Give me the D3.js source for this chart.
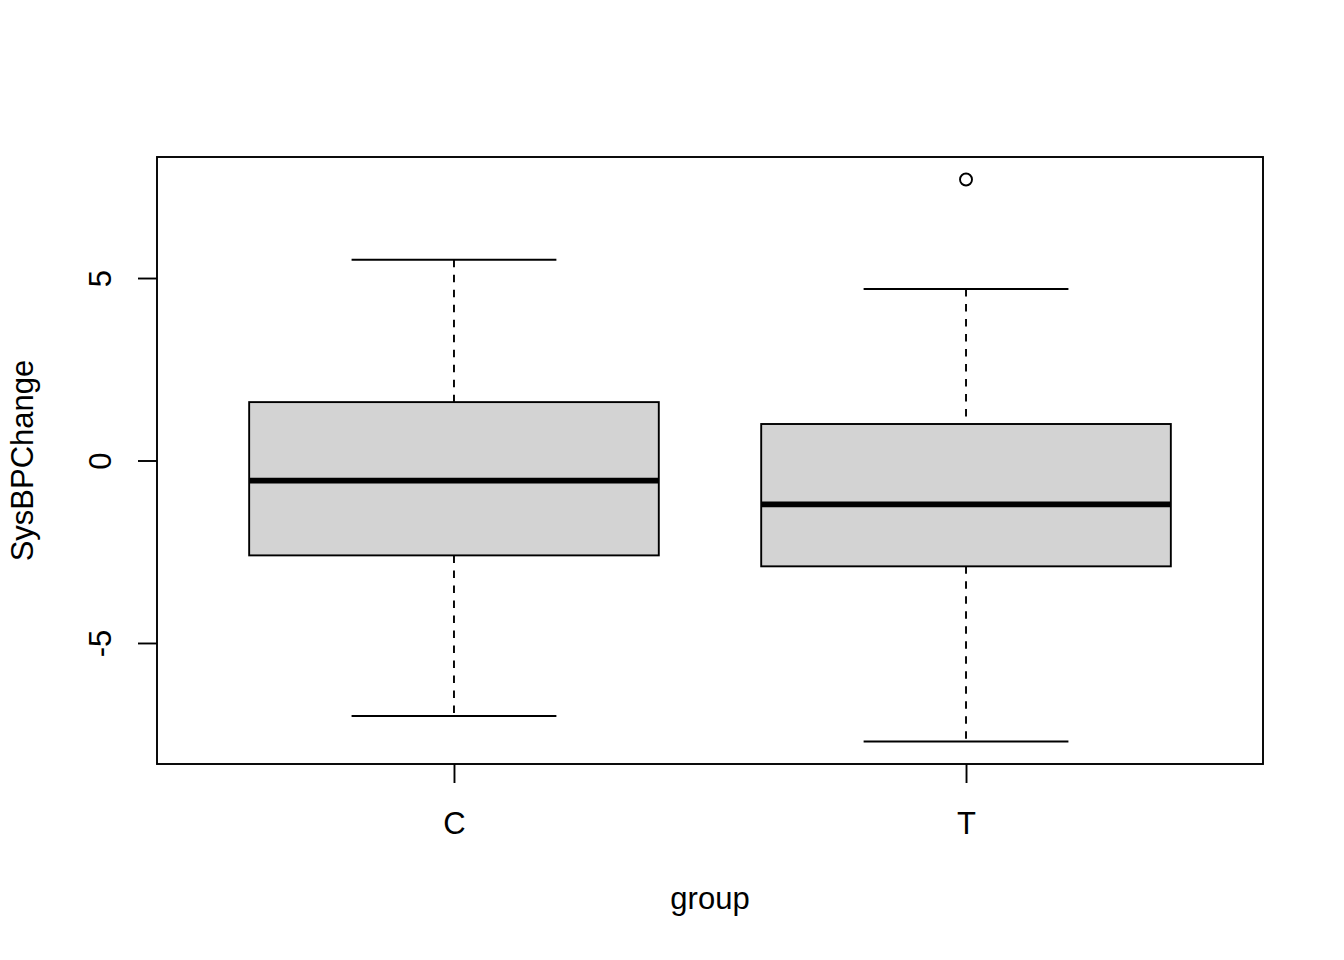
<!DOCTYPE html>
<html>
<head>
<meta charset="utf-8">
<script src="https://cdn.jsdelivr.net/npm/d3@7"></script>
<style>
  body { margin: 0; background: #fff; }
  svg text { font-family: "Liberation Sans", Arial, sans-serif; fill: #000; }
</style>
</head>
<body>
<div id="chart"></div>
<script>
// boxplot summary per group
var groups = ['C', 'T'];
var whiskerLow = [-7.0, -7.7];
var quart1 = [-2.6, -2.9];
var medians = [-0.55, -1.2];
var quart3 = [1.6, 1.0];
var whiskerHigh = [5.5, 4.7];
var outliers = [[], [7.7]];
var yTicks = [-5, 0, 5];

var width = 1344, height = 960;
var plot = { left: 157, right: 1263, top: 157, bottom: 764 };
var lw = 1.9;
var fs = '31px';

var svg = d3.select('#chart').append('svg')
  .attr('width', width)
  .attr('height', height);

// R style: pad the ranges by 4%
var x = d3.scaleLinear().domain([0.42, 2.58]).range([plot.left, plot.right]);
var y = d3.scaleLinear().domain([-8.316, 8.316]).range([plot.bottom, plot.top]);

var boxes = groups.map(function (g, i) {
  return { name: g, pos: i + 1, lo: whiskerLow[i], q1: quart1[i], med: medians[i],
           q3: quart3[i], hi: whiskerHigh[i], out: outliers[i] };
});

var gBox = svg.selectAll('g.box')
  .data(boxes)
  .enter()
  .append('g')
  .attr('class', 'box');

// dashed whiskers
gBox.append('line')
  .attr('x1', d => x(d.pos)).attr('x2', d => x(d.pos))
  .attr('y1', d => y(d.hi)).attr('y2', d => y(d.q3))
  .attr('stroke', '#000').attr('stroke-width', lw).attr('stroke-dasharray', '7.5,7.5');
gBox.append('line')
  .attr('x1', d => x(d.pos)).attr('x2', d => x(d.pos))
  .attr('y1', d => y(d.q1)).attr('y2', d => y(d.lo))
  .attr('stroke', '#000').attr('stroke-width', lw).attr('stroke-dasharray', '7.5,7.5');

// whisker caps
['lo', 'hi'].forEach(function (k) {
  gBox.append('line')
    .attr('x1', d => x(d.pos - 0.2)).attr('x2', d => x(d.pos + 0.2))
    .attr('y1', d => y(d[k])).attr('y2', d => y(d[k]))
    .attr('stroke', '#000').attr('stroke-width', lw);
});

// box
gBox.append('rect')
  .attr('x', d => x(d.pos - 0.4))
  .attr('y', d => y(d.q3))
  .attr('width', d => x(d.pos + 0.4) - x(d.pos - 0.4))
  .attr('height', d => y(d.q1) - y(d.q3))
  .attr('fill', '#d3d3d3')
  .attr('stroke', '#000').attr('stroke-width', lw);

// median
gBox.append('line')
  .attr('x1', d => x(d.pos - 0.4)).attr('x2', d => x(d.pos + 0.4))
  .attr('y1', d => y(d.med)).attr('y2', d => y(d.med))
  .attr('stroke', '#000').attr('stroke-width', 5.7);

// outliers
gBox.each(function (d) {
  d3.select(this).selectAll('circle')
    .data(d.out)
    .enter()
    .append('circle')
    .attr('cx', x(d.pos))
    .attr('cy', v => y(v))
    .attr('r', 6)
    .attr('fill', 'none')
    .attr('stroke', '#000').attr('stroke-width', lw);
});

// frame
svg.append('rect')
  .attr('x', plot.left).attr('y', plot.top)
  .attr('width', plot.right - plot.left)
  .attr('height', plot.bottom - plot.top)
  .attr('fill', 'none').attr('stroke', '#000').attr('stroke-width', lw);

// x axis
var xAxis = svg.append('g')
  .attr('transform', 'translate(0,' + plot.bottom + ')')
  .call(d3.axisBottom(x).tickValues(boxes.map(d => d.pos))
    .tickFormat(function (v) { return groups[v - 1]; })
    .tickSize(19).tickPadding(0));
xAxis.select('.domain').remove();
xAxis.selectAll('line').attr('stroke-width', lw);
xAxis.selectAll('text')
  .attr('dy', null)
  .attr('y', 70)
  .style('font-size', fs)
  .attr('font-family', null);

// y axis
var yAxis = svg.append('g')
  .attr('transform', 'translate(' + plot.left + ',0)')
  .call(d3.axisLeft(y).tickValues(yTicks).tickSize(19).tickFormat(d3.format('d')));
yAxis.select('.domain').remove();
yAxis.selectAll('line').attr('stroke-width', lw);
yAxis.selectAll('text')
  .attr('x', null).attr('dy', null)
  .attr('text-anchor', 'middle')
  .attr('transform', 'translate(-46,0) rotate(-90)')
  .style('font-size', fs)
  .attr('font-family', null)
  .text(d => d < 0 ? '-' + Math.abs(d) : d);

// titles
svg.append('text')
  .attr('x', (plot.left + plot.right) / 2)
  .attr('y', 909)
  .attr('text-anchor', 'middle')
  .style('font-size', fs)
  .text('group');

svg.append('text')
  .attr('transform', 'translate(33,' + (plot.top + plot.bottom) / 2 + ') rotate(-90)')
  .attr('text-anchor', 'middle')
  .style('font-size', fs)
  .text('SysBPChange');
</script>
</body>
</html>
